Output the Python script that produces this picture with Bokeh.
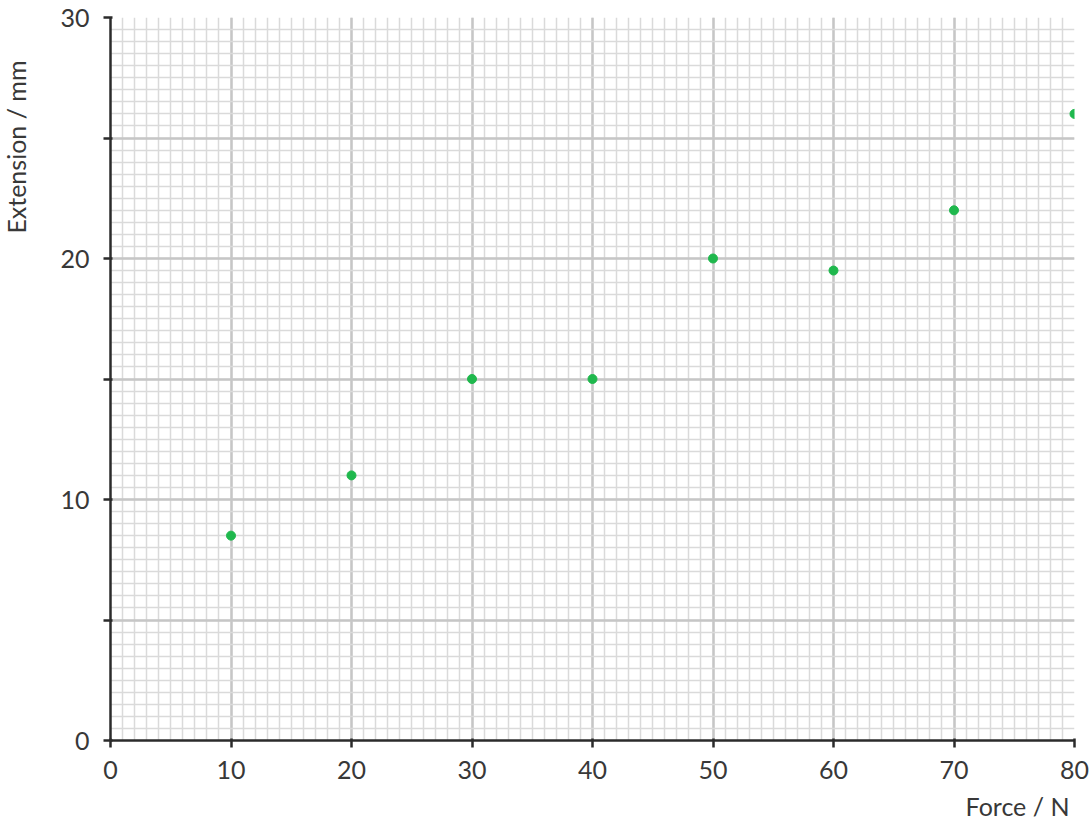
from bokeh.plotting import figure
from bokeh.models import Range1d, FixedTicker, Title, ColumnDataSource
from bokeh.embed import file_html
from bokeh.resources import INLINE

# Spring loading data
force_n = [10, 20, 30, 40, 50, 60, 70, 80]
extension_mm = [8.5, 11, 15, 15, 20, 19.5, 22, 26]

x_ticks = [0, 10, 20, 30, 40, 50, 60, 70, 80]
y_ticks = [0, 5, 10, 15, 20, 25, 30]
y_tick_labels = {0: "0", 5: "", 10: "10", 15: "", 20: "20", 25: "", 30: "30"}

FONT = "Lato"
TEXT = "#383838"

p = figure(width=1091, height=827, output_backend="svg", toolbar_location=None,
           x_range=Range1d(0, 80), y_range=Range1d(0, 30),
           min_border_left=110, min_border_right=17, min_border_top=17, min_border_bottom=86)
p.outline_line_color = None
p.background_fill_color = "white"
p.border_fill_color = "white"

# graph-paper grid: fine squares of 1 N x 0.5 mm, bold lines every 10 N / 5 mm
p.xgrid.ticker = FixedTicker(ticks=x_ticks, minor_ticks=list(range(0, 81)))
p.ygrid.ticker = FixedTicker(ticks=y_ticks, minor_ticks=[i * 0.5 for i in range(61)])
for g in (p.xgrid, p.ygrid):
    g.grid_line_color = "#c6c6c6"
    g.grid_line_width = 2.5
    g.minor_grid_line_color = "#dadada"
    g.minor_grid_line_width = 1.5

# axes
p.xaxis.ticker = FixedTicker(ticks=x_ticks)
p.yaxis.ticker = FixedTicker(ticks=y_ticks)
p.yaxis.major_label_overrides = y_tick_labels
for ax in (p.xaxis, p.yaxis):
    ax.axis_line_color = "#2b2b2b"
    ax.axis_line_width = 2.5
    ax.major_tick_line_color = "#2b2b2b"
    ax.major_tick_line_width = 2.5
    ax.major_tick_out = 7
    ax.major_tick_in = 2
    ax.minor_tick_line_color = None
    ax.major_label_text_font = FONT
    ax.major_label_text_font_size = "25px"
    ax.major_label_text_color = TEXT
p.xaxis.major_label_standoff = 13
p.yaxis.major_label_standoff = 14

# blank axis label used as a gap between the tick labels and the y title
p.yaxis.axis_label = " "
p.yaxis.axis_label_standoff = 11
p.yaxis.axis_label_text_font_size = "10px"

# measured points
src = ColumnDataSource(dict(x=force_n, y=extension_mm))
p.scatter("x", "y", source=src, size=9, fill_color="#1fb84d", line_color="#1fb84d")

# axis titles
p.add_layout(Title(text="Force / N", align="right", text_font=FONT, text_font_size="25px",
                   text_font_style="normal", text_color=TEXT, offset=5, standoff=14), "below")
p.add_layout(Title(text="Extension / mm", align="right", vertical_align="top", text_font=FONT,
                   text_font_size="25px", text_font_style="normal", text_color=TEXT,
                   offset=43, standoff=0), "left")

open("out.html", "w").write(file_html(p, INLINE))
